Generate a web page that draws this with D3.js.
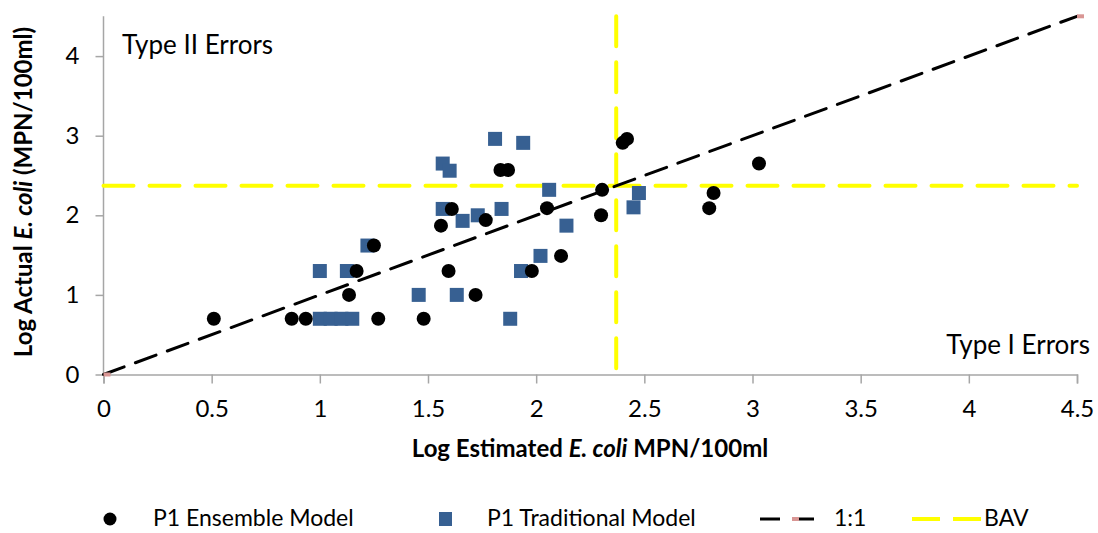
<!DOCTYPE html>
<html>
<head>
<meta charset="utf-8">
<script src="https://cdn.jsdelivr.net/npm/d3@7"></script>
<style>
  html, body { margin: 0; padding: 0; background: #fff; }
  svg { display: block; font-family: Lato, "Open Sans", sans-serif; }
</style>
</head>
<body>
<svg id="chart" width="1098" height="533"></svg>
<script>
// Log10 E. coli: estimated (x) vs actual (y), MPN/100ml
const ensembleX = [0.51, 0.87, 0.935, 1.135, 1.17, 1.25, 1.27, 1.48, 1.56, 1.595, 1.61, 1.72, 1.767, 1.835, 1.87, 1.98, 2.05, 2.115, 2.30, 2.305, 2.40, 2.42, 2.80, 2.82, 3.03];
const ensembleY = [0.70, 0.70, 0.70, 1.00, 1.30, 1.62, 0.70, 0.70, 1.87, 1.30, 2.08, 1.00, 1.94, 2.57, 2.57, 1.30, 2.09, 1.49, 2.00, 2.32, 2.91, 2.96, 2.09, 2.28, 2.65];

const traditionalX = [1.00, 1.05, 1.10, 1.15, 1.00, 1.125, 1.22, 1.457, 1.568, 1.60, 1.568, 1.633, 1.66, 1.73, 1.81, 1.84, 1.88, 1.93, 1.94, 2.02, 2.06, 2.14, 2.45, 2.475];
const traditionalY = [0.70, 0.70, 0.70, 0.70, 1.30, 1.30, 1.62, 1.00, 2.65, 2.56, 2.08, 1.00, 1.93, 2.00, 2.96, 2.08, 0.70, 1.30, 2.91, 1.49, 2.32, 1.87, 2.10, 2.28];

// 1:1 reference line end points and beach action value (log10 235)
const oneToOneX = [0, 4.5];
const oneToOneY = [0, 4.5];
const bav = 2.37;

const xTicks = [0, 0.5, 1, 1.5, 2, 2.5, 3, 3.5, 4, 4.5];
const yTicks = [0, 1, 2, 3, 4];

const legendLabels = ["P1 Ensemble Model", "P1 Traditional Model", "1:1", "BAV"];

const svg = d3.select("#chart");
const x = d3.scaleLinear().domain([0, 4.5]).range([103.5, 1077]);
const y = d3.scaleLinear().domain([0, 4.5]).range([374.5, 16.3]);

const axisColor = "#a6a6a6";
const blue = "#376092";
const pink = "#d99694";

// Axes
const gx = svg.append("g").attr("transform", `translate(0,${y(0)})`)
  .call(d3.axisBottom(x).tickValues(xTicks).tickSize(9).tickPadding(16).tickFormat(d3.format("")));
const gy = svg.append("g").attr("transform", `translate(${x(0)},0)`)
  .call(d3.axisLeft(y).tickValues(yTicks).tickSize(8).tickPadding(16).tickFormat(d3.format("")));
[gx, gy].forEach(g => {
  g.select(".domain").attr("stroke", axisColor).attr("stroke-width", 1.5);
  g.selectAll(".tick line").attr("stroke", axisColor).attr("stroke-width", 1.5);
  g.selectAll(".tick text").attr("fill", "#000").attr("font-size", 24).attr("font-family", "Lato, sans-serif");
});
gy.select(".domain").attr("d", `M0,${y(4.5)}V${y(0)}`);

// BAV lines
svg.append("line")
  .attr("x1", x(0)).attr("x2", x(4.5)).attr("y1", y(bav)).attr("y2", y(bav))
  .attr("stroke", "#ffff00").attr("stroke-width", 4).attr("stroke-dasharray", "30 16").attr("stroke-linecap", "round");
svg.append("line")
  .attr("x1", x(bav)).attr("x2", x(bav)).attr("y1", y(4.5)).attr("y2", y(0))
  .attr("stroke", "#ffff00").attr("stroke-width", 4).attr("stroke-dasharray", "30 16").attr("stroke-linecap", "round");

// 1:1 line
svg.append("line")
  .attr("x1", x(oneToOneX[0])).attr("y1", y(oneToOneY[0]))
  .attr("x2", x(oneToOneX[1])).attr("y2", y(oneToOneY[1]))
  .attr("stroke", "#000").attr("stroke-width", 3).attr("stroke-dasharray", "22 12").attr("stroke-linecap", "round");
svg.selectAll("rect.endpt").data(oneToOneX.map((d, i) => [d, oneToOneY[i]])).join("rect")
  .attr("class", "endpt")
  .attr("x", d => x(d[0])).attr("y", d => y(d[1]) - 2)
  .attr("width", 7).attr("height", 4).attr("fill", pink);

// Traditional model squares
const sq = 14;
svg.selectAll("rect.trad").data(traditionalX.map((d, i) => [d, traditionalY[i]])).join("rect")
  .attr("class", "trad")
  .attr("x", d => x(d[0]) - sq / 2).attr("y", d => y(d[1]) - sq / 2)
  .attr("width", sq).attr("height", sq).attr("fill", blue);

// Ensemble model circles
svg.selectAll("circle.ens").data(ensembleX.map((d, i) => [d, ensembleY[i]])).join("circle")
  .attr("class", "ens")
  .attr("cx", d => x(d[0])).attr("cy", d => y(d[1])).attr("r", 7).attr("fill", "#000");

// Quadrant annotations
svg.append("text").attr("x", 122).attr("y", 54).attr("font-size", 26).attr("fill", "#000").text("Type II Errors");
svg.append("text").attr("x", 1090).attr("y", 354).attr("text-anchor", "end").attr("font-size", 26).attr("fill", "#000").text("Type I Errors");

// Axis titles
const xt = svg.append("text").attr("x", 590).attr("y", 457).attr("text-anchor", "middle")
  .attr("font-size", 24).attr("font-weight", "bold").attr("fill", "#000");
xt.append("tspan").text("Log Estimated ");
xt.append("tspan").attr("font-style", "italic").text("E. coli");
xt.append("tspan").text(" MPN/100ml");

const yt = svg.append("text").attr("transform", "translate(32,192) rotate(-90)").attr("text-anchor", "middle")
  .attr("font-size", 24).attr("font-weight", "bold").attr("fill", "#000");
yt.append("tspan").text("Log Actual ");
yt.append("tspan").attr("font-style", "italic").text("E. coli");
yt.append("tspan").text(" (MPN/100ml)");

// Legend
const ly = 519;
const lg = svg.append("g");
lg.append("circle").attr("cx", 110).attr("cy", ly).attr("r", 6.5).attr("fill", "#000");
lg.append("text").attr("x", 153).attr("y", ly + 7).attr("font-size", 23).text(legendLabels[0]);
lg.append("rect").attr("x", 439).attr("y", ly - 7).attr("width", 13).attr("height", 14).attr("fill", blue);
lg.append("text").attr("x", 487).attr("y", ly + 7).attr("font-size", 23).text(legendLabels[1]);
lg.append("line").attr("x1", 760).attr("x2", 818).attr("y1", ly).attr("y2", ly)
  .attr("stroke", "#000").attr("stroke-width", 3).attr("stroke-dasharray", "20 14");
lg.append("rect").attr("x", 792).attr("y", ly - 2).attr("width", 7).attr("height", 4).attr("fill", pink);
lg.append("text").attr("x", 834).attr("y", ly + 7).attr("font-size", 23).text(legendLabels[2]);
lg.append("line").attr("x1", 912).attr("x2", 981).attr("y1", ly).attr("y2", ly)
  .attr("stroke", "#ffff00").attr("stroke-width", 4).attr("stroke-dasharray", "28 13");
lg.append("text").attr("x", 984).attr("y", ly + 7).attr("font-size", 23).text(legendLabels[3]);
</script>
</body>
</html>
